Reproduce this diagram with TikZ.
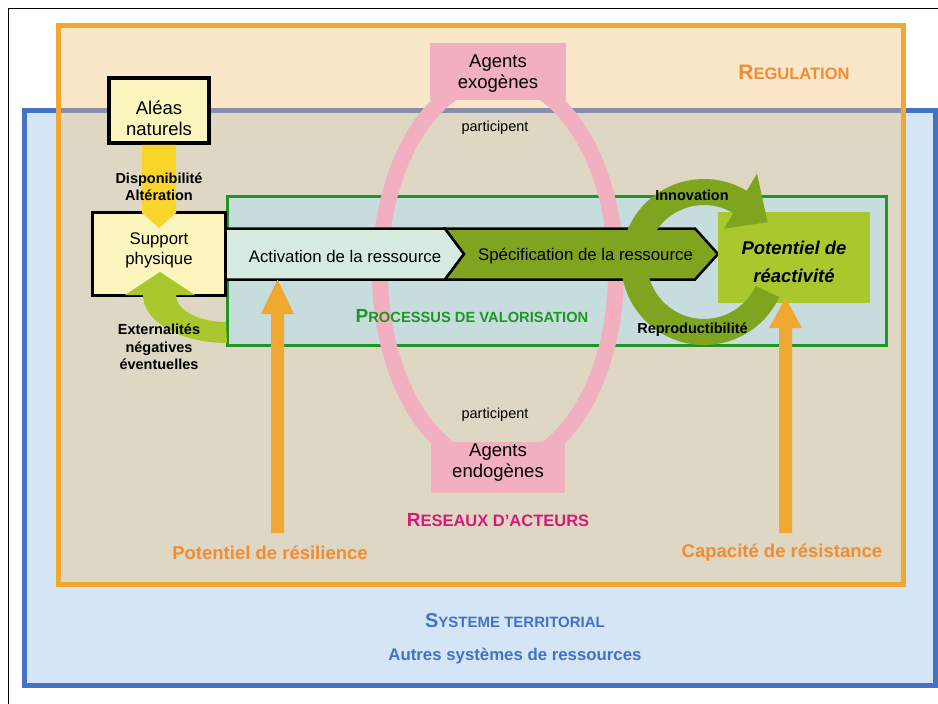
\documentclass[tikz,border=0pt]{standalone}
\usepackage{fontspec}
\setmainfont{Liberation Sans}
\usetikzlibrary{positioning}

\definecolor{myblue}{RGB}{68,114,196}
\definecolor{lightblue}{RGB}{212,230,246}
\definecolor{peach}{RGB}{250,230,200}
\definecolor{tanfill}{RGB}{221,215,196}
\definecolor{greyblue}{RGB}{138,141,168}
\definecolor{myorange}{RGB}{240,168,48}
\definecolor{orangetext}{RGB}{240,140,52}
\definecolor{mygreen}{RGB}{29,150,36}
\definecolor{valfill}{RGB}{198,220,221}
\definecolor{paleyellow}{RGB}{250,246,190}
\definecolor{myyellow}{RGB}{249,213,43}
\definecolor{lightgreen}{RGB}{169,200,45}
\definecolor{olive}{RGB}{127,165,32}
\definecolor{mint}{RGB}{214,235,223}
\definecolor{mypink}{RGB}{242,175,192}
\definecolor{mymagenta}{RGB}{215,25,122}

\newcommand{\mysc}[4]{{\fontsize{#1}{#1}\selectfont #3}{\fontsize{#2}{#2}\selectfont #4}}

\begin{document}
\begin{tikzpicture}[x=1pt, y=-1pt,
    bigtxt/.style={font=\fontsize{16.8}{20}\selectfont, align=center, inner sep=0pt},
    agenttxt/.style={font=\fontsize{18.5}{21}\selectfont, align=center, inner sep=0pt},
    boldtxt/.style={font=\bfseries\fontsize{14.5}{17.5}\selectfont, align=center, inner sep=0pt},
    smalltxt/.style={font=\fontsize{14.5}{17}\selectfont, inner sep=0pt},
    orangetxt/.style={font=\bfseries\fontsize{18.5}{22}\selectfont, text=orangetext, inner sep=0pt},
    plainbox/.style={draw=black, fill=paleyellow, inner sep=0pt}]
            \useasboundingbox (0,0) rectangle (938,704);
            \draw[line width=1.2pt] (8.5,704) -- (8.5,8.5) -- (938,8.5);

            % systeme territorial et regulation
            \node[draw=myblue, fill=lightblue, line width=5pt, minimum width=911pt, minimum height=575pt, inner sep=0pt] (systeme) at (480,398) {};
            \fill[peach] (58,25.5) rectangle (903,110.5);
            \fill[tanfill] (58,110.5) rectangle (903,584);
            \draw[greyblue, line width=5pt] (58,110.5) -- (903,110.5);
            \node[draw=myorange, line width=5pt, minimum width=845pt, minimum height=558.5pt, inner sep=0pt] (regulation) at (480.5,304.75) {};

            % processus de valorisation
            \node[draw=mygreen, fill=valfill, line width=3pt, minimum width=659pt, minimum height=149pt, inner sep=0pt] (valorisation) at (557,271) {};

            % reseau d'acteurs
            \draw[mypink, line width=16pt] (498,272) ellipse [x radius=118pt, y radius=194pt];
            \node[fill=mypink, minimum width=136pt, minimum height=57pt, inner sep=0pt] (exogenes) at (498,71.5) {};
            \node[fill=mypink, minimum width=134pt, minimum height=51pt, inner sep=0pt] (endogenes) at (498,467.5) {};

            % bandes du processus
            \coordinate (actnw) at (227,228.5);
            \coordinate (actsw) at (227,279.5);
            \fill[mint] (actnw) -- (445,228.5) -- (464,254) -- (445,279.5) -- (actsw) -- cycle;
            \draw[line width=2.5pt] (actnw) -- (445,228.5) -- (464,254) -- (445,279.5) -- (actsw);
            \filldraw[fill=olive, line width=2.5pt] (445,228.5) -- (695,228.5) -- (718,254) -- (695,279.5) -- (445,279.5) -- (464,254) -- cycle;

            \node[fill=lightgreen, minimum width=152pt, minimum height=91pt, inner sep=0pt] (potentiel) at (794,257.5) {};

            % boucle innovation / reproductibilite
            \coordinate (boucle) at (704,262);
            \fill[olive] ([shift={(-25:83pt)}]boucle) arc[start angle=-25, end angle=-301, radius=83pt]
                -- ([shift={(59:103pt)}]boucle) -- ([shift={(32:75pt)}]boucle) -- ([shift={(59:39pt)}]boucle)
                -- ([shift={(59:57pt)}]boucle) arc[start angle=59, end angle=335, radius=57pt] -- cycle;

            % support physique et aleas
            \node[plainbox, line width=3pt, minimum width=133pt, minimum height=83pt] (support) at (159,254) {};
            \node[plainbox, line width=3.7pt, minimum width=100pt, minimum height=65pt] (aleas) at (159,110.5) {};

            \fill[myyellow] ([xshift=-17pt]aleas.south) -- ([xshift=17pt]aleas.south) -- (176,213) -- (159,228) -- (142,213) -- cycle;

            \coordinate (extbase) at (227,295);
            \fill[lightgreen] (125,295) -- (143,295) arc[start angle=180, end angle=270, x radius=84pt, y radius=48pt]
                -- (226,322) arc[start angle=270, end angle=180, x radius=50pt, y radius=27pt]
                -- (195,295) -- (160,272) -- cycle;

            % potentiels
            \coordinate (resfoot) at (277.5,533);
            \coordinate (resfoot2) at (785.5,533);
            \fill[myorange] ([xshift=-6.5pt]resfoot) -- (271,314) -- (261,314) -- (resfoot |- actsw) -- (294,314) -- (284,314) -- ([xshift=6.5pt]resfoot) -- cycle;
            \fill[myorange] ([xshift=-6.5pt]resfoot2) -- (779,328) -- (769,328) -- (785.5,298) -- (802,328) -- (792,328) -- ([xshift=6.5pt]resfoot2) -- cycle;

            % textes
            \node[agenttxt] (aleaslabel) at (159,118) {Aléas\\naturels};
            \node[bigtxt] (supportlabel) at (159,250) {Support\\physique};
            \node[bigtxt] (activation) at (345,256) {Activation de la ressource};
            \node[bigtxt] (specification) at (585.5,256) {Spécification de la ressource};
            \node[bigtxt, font=\bfseries\itshape\fontsize{18.5}{28}\selectfont] (potentiellabel) at (794,262) {Potentiel de\\réactivité};
            \node[agenttxt] (exolabel) at (498,73.5) {Agents\\exogènes};
            \node[agenttxt] (endolabel) at (498,463) {Agents\\endogènes};
            \node[smalltxt] (parttop) at (495,128) {participent};
            \node[smalltxt] (partbottom) at (495,415) {participent};

            \node[boldtxt] (dispo) at (159,187) {Disponibilité\\Altération};
            \node[boldtxt] (externalites) at (159,347) {Externalités\\négatives\\éventuelles};
            \node[boldtxt] (innovation) at (692,195) {Innovation};
            \node[boldtxt] (reproductibilite) at (692.5,330) {Reproductibilité};

            \node[orangetxt] (resilience) at (270,553) {Potentiel de résilience};
            \node[orangetxt] (resistance) at (782,553) {Capacité de résistance};

            \node[font=\bfseries, text=orangetext, inner sep=0pt] (regtitle) at (794,72) {\mysc{21}{16.5}{R}{EGULATION}};
            \node[font=\bfseries, text=mygreen, inner sep=0pt] (valtitle) at (472,316) {\mysc{19}{14.7}{P}{ROCESSUS DE VALORISATION}};
            \node[font=\bfseries, text=mymagenta, inner sep=0pt] (reseautitle) at (498,520) {\mysc{19}{16.5}{R}{ESEAUX D’ACTEURS}};
            \node[font=\bfseries, text=myblue, inner sep=0pt] (systitle) at (515,621) {\mysc{20}{15}{S}{YSTEME TERRITORIAL}};
            \node[font=\bfseries\fontsize{16.8}{20}\selectfont, text=myblue, inner sep=0pt] (autres) at (515,656) {Autres systèmes de ressources};
        \end{tikzpicture}
\end{document}
